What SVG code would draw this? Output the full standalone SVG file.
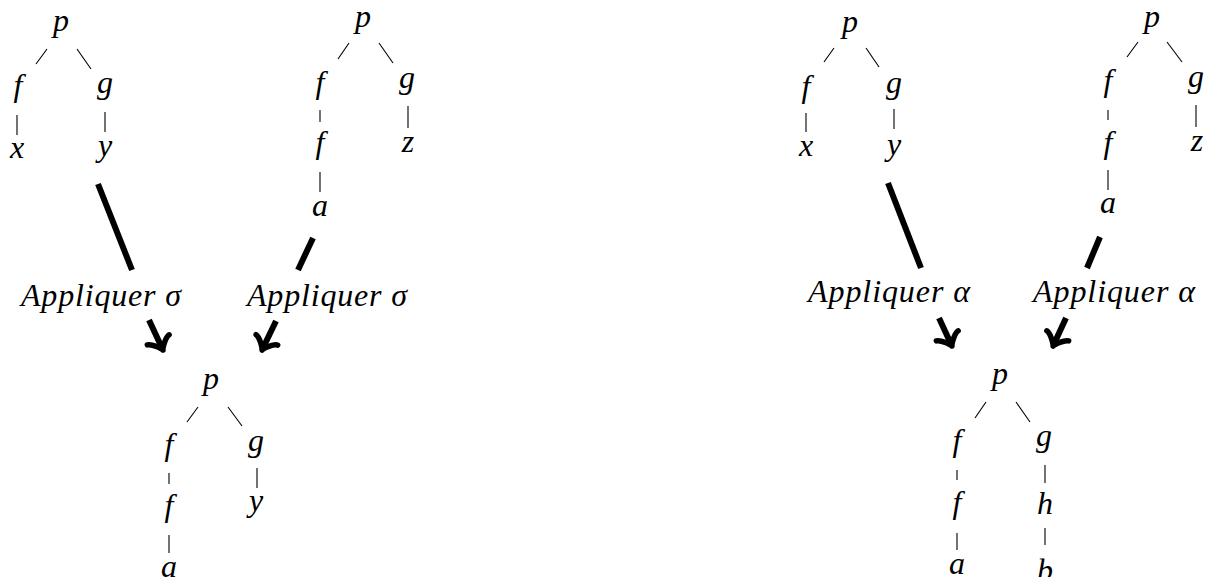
<svg xmlns="http://www.w3.org/2000/svg" width="1205" height="577" viewBox="0 0 1205 577">
<style>
text{font-family:"Liberation Serif","Times New Roman",serif;font-style:italic;font-size:32px;fill:#000;text-anchor:middle}
.e{stroke:#000;stroke-width:1.1;fill:none}
.t{stroke:#000;stroke-width:6;fill:none}
</style>
<defs>
<marker id="to" markerUnits="userSpaceOnUse" orient="auto" refX="0" refY="0" markerWidth="40" markerHeight="40" viewBox="-20 -20 40 40" overflow="visible">
<path d="M-9,-12 C-8.25,-7.5 0,-0.75 2.25,0 C0,0.75 -8.25,7.5 -9,12" fill="none" stroke="#000" stroke-width="5.5" stroke-linecap="round" stroke-linejoin="round"/>
</marker>
</defs>
<g id="connectors">
<path class="e" d="M47,49L36,64M77,49L91,69M17,115V135M105,112V132"/>
<path class="e" d="M349,43L338,59M379,43L393,63M320,110V122M408,106V128M320,172V192"/>
<path class="e" d="M198,407L187,422M228,407L242,426M169,473V484M257,468V488M169,535V553"/>
<path class="e" d="M834,48L824,62M866,48L879,67M806,113V132M894,109V129"/>
<path class="e" d="M1138,42L1127,57M1167,42L1182,62M1108,110V120M1196,105V127M1108,170V190"/>
<path class="e" d="M986,402L975,418M1016,402L1030,422M957,470V480M1045,465V483M957,533V550M1045,528V545"/>
<path class="t" d="M98,184L132,270"/>
<path class="t" d="M149,320L162,348" marker-end="url(#to)"/>
<path class="t" d="M313,238L298,270"/>
<path class="t" d="M276,321L263,348" marker-end="url(#to)"/>
<path class="t" d="M888,183L921,268"/>
<path class="t" d="M939,318L951,344" marker-end="url(#to)"/>
<path class="t" d="M1100,237L1087,268"/>
<path class="t" d="M1066,318L1054,344" marker-end="url(#to)"/>
</g>
<g id="label-sigma-1"><text x="101" y="306" textLength="160" lengthAdjust="spacing">Appliquer σ</text></g>
<g id="label-sigma-2"><text x="327" y="306" textLength="160" lengthAdjust="spacing">Appliquer σ</text></g>
<g id="label-alpha-1"><text x="889" y="302" textLength="162" lengthAdjust="spacing">Appliquer α</text></g>
<g id="label-alpha-2"><text x="1114" y="302" textLength="162" lengthAdjust="spacing">Appliquer α</text></g>
<g id="t1-p"><text x="61" y="31">p</text></g>
<g id="t1-f"><text x="18" y="96">f</text></g>
<g id="t1-g"><text x="105" y="93">g</text></g>
<g id="t1-x"><text x="17" y="158">x</text></g>
<g id="t1-y"><text x="105" y="156">y</text></g>
<g id="t2-p"><text x="363" y="27">p</text></g>
<g id="t2-f"><text x="320" y="93">f</text></g>
<g id="t2-g"><text x="407" y="88">g</text></g>
<g id="t2-f2"><text x="320" y="153">f</text></g>
<g id="t2-z"><text x="408" y="152">z</text></g>
<g id="t2-a"><text x="320" y="216">a</text></g>
<g id="t3-p"><text x="211" y="389">p</text></g>
<g id="t3-f"><text x="169" y="455">f</text></g>
<g id="t3-g"><text x="256" y="451">g</text></g>
<g id="t3-f2"><text x="169" y="516">f</text></g>
<g id="t3-y"><text x="256" y="511">y</text></g>
<g id="t3-a"><text x="169" y="577">a</text></g>
<g id="t4-p"><text x="850" y="32">p</text></g>
<g id="t4-f"><text x="806" y="97">f</text></g>
<g id="t4-g"><text x="894" y="93">g</text></g>
<g id="t4-x"><text x="806" y="156">x</text></g>
<g id="t4-y"><text x="894" y="155">y</text></g>
<g id="t5-p"><text x="1152" y="27">p</text></g>
<g id="t5-f"><text x="1108" y="91">f</text></g>
<g id="t5-g"><text x="1196" y="87">g</text></g>
<g id="t5-f2"><text x="1108" y="153">f</text></g>
<g id="t5-z"><text x="1197" y="151">z</text></g>
<g id="t5-a"><text x="1108" y="213">a</text></g>
<g id="t6-p"><text x="1000" y="384">p</text></g>
<g id="t6-f"><text x="957" y="451">f</text></g>
<g id="t6-g"><text x="1044" y="446">g</text></g>
<g id="t6-f2"><text x="957" y="513">f</text></g>
<g id="t6-h"><text x="1045" y="514">h</text></g>
<g id="t6-a"><text x="957" y="574">a</text></g>
<g id="t6-b"><text x="1045" y="581">b</text></g>
</svg>
